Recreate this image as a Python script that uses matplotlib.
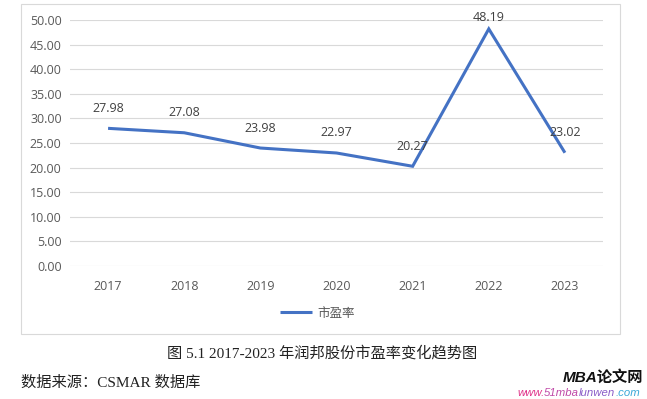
import matplotlib
matplotlib.use("Agg")
import matplotlib.pyplot as plt

years = ["2017", "2018", "2019", "2020", "2021", "2022", "2023"]
pe_ratio = [27.98, 27.08, 23.98, 22.97, 20.27, 48.19, 23.02]
y_ticks = [0, 5, 10, 15, 20, 25, 30, 35, 40, 45, 50]
series_name = "市盈率"
caption = "图 5.1 2017-2023 年润邦股份市盈率变化趋势图"
source_note = "数据来源：CSMAR 数据库"

W, H = 647, 399
fig = plt.figure(figsize=(W / 100, H / 100), dpi=100)
fig.patch.set_facecolor("white")

# chart border
border = plt.Rectangle((21 / W, 1 - 334 / H), (620 - 21) / W, (334 - 4) / H,
                       transform=fig.transFigure, fill=False,
                       edgecolor="#d9d9d9", linewidth=0.8)
fig.add_artist(border)

ax = fig.add_axes([70 / W, 1 - 266 / H, (603 - 70) / W, (266 - 20) / H])
x = list(range(len(years)))
line_color = "#4472C4"
ax.plot(x, pe_ratio, color=line_color, linewidth=2.2, solid_capstyle="butt",
        solid_joinstyle="miter", label=series_name, zorder=3)

ax.set_xlim(-0.5, len(years) - 0.5)
ax.set_ylim(0, 50)
ax.set_yticks(y_ticks)
ax.set_yticklabels([f"{v:.2f}" for v in y_ticks])
ax.set_xticks(x)
ax.set_xticklabels(years)
ax.grid(axis="y", color="#d9d9d9", linewidth=0.8, zorder=0)
ax.set_axisbelow(True)
for s in ax.spines.values():
    s.set_visible(False)
ax.tick_params(axis="both", length=0, colors="#595959", labelsize=9)
ax.tick_params(axis="y", pad=6)
ax.tick_params(axis="x", pad=10)
for lab in ax.get_xticklabels() + ax.get_yticklabels():
    lab.set_fontfamily("Open Sans")

# data labels
ymax_px = 246
for xi, v in zip(x, pe_ratio):
    headroom = (50 - v) / 50 * ymax_px
    off = min(20, headroom + 2) if headroom < 24 else 20
    ax.annotate(f"{v:.2f}", (xi, v), xytext=(0, off * 0.72), textcoords="offset points",
                ha="center", va="center", fontsize=9, color="#404040",
                family="Open Sans", zorder=4)

# legend
leg = fig.legend(handles=ax.get_lines(), labels=[series_name], loc="center",
                 bbox_to_anchor=(317 / W, 1 - 313 / H), frameon=False,
                 prop={"family": ["Noto Sans CJK SC", "DejaVu Sans"], "size": 9},
                 handlelength=2.6, handletextpad=0.4)
for t in leg.get_texts():
    t.set_color("#595959")

# caption and source
fig.text(322 / W, 1 - 353 / H, caption, ha="center", va="center", fontsize=11,
         family=["Liberation Serif", "Noto Sans CJK SC"], color="#222222")
fig.text(21 / W, 1 - 383 / H, source_note, ha="left", va="center", fontsize=11,
         family=["Liberation Serif", "Noto Sans CJK SC"], color="#222222")

# watermark
fig.text(643 / W, 1 - 377 / H, "MBA论文网", ha="right", va="center", fontsize=11,
         fontweight="bold", style="italic",
         family=["Liberation Sans", "Noto Sans CJK SC"], color="#111111")
parts = [("www.", "#e0358a"), ("51mba", "#c04aa8"), ("lunwen", "#8a5cc8"), (".com", "#3aa9d8")]
t0 = fig.text(517 / W, 1 - 393 / H, parts[0][0], ha="left", va="center", fontsize=8.2,
              style="italic", family="Liberation Sans", color=parts[0][1])
prev = t0
for txt, col in parts[1:]:
    prev = fig.add_artist(plt.Annotation(txt, xy=(1, 0.5), xycoords=prev, ha="left",
                                         va="center", fontsize=8.2, style="italic",
                                         family="Liberation Sans", color=col))

fig.savefig("out.png", dpi=100)
